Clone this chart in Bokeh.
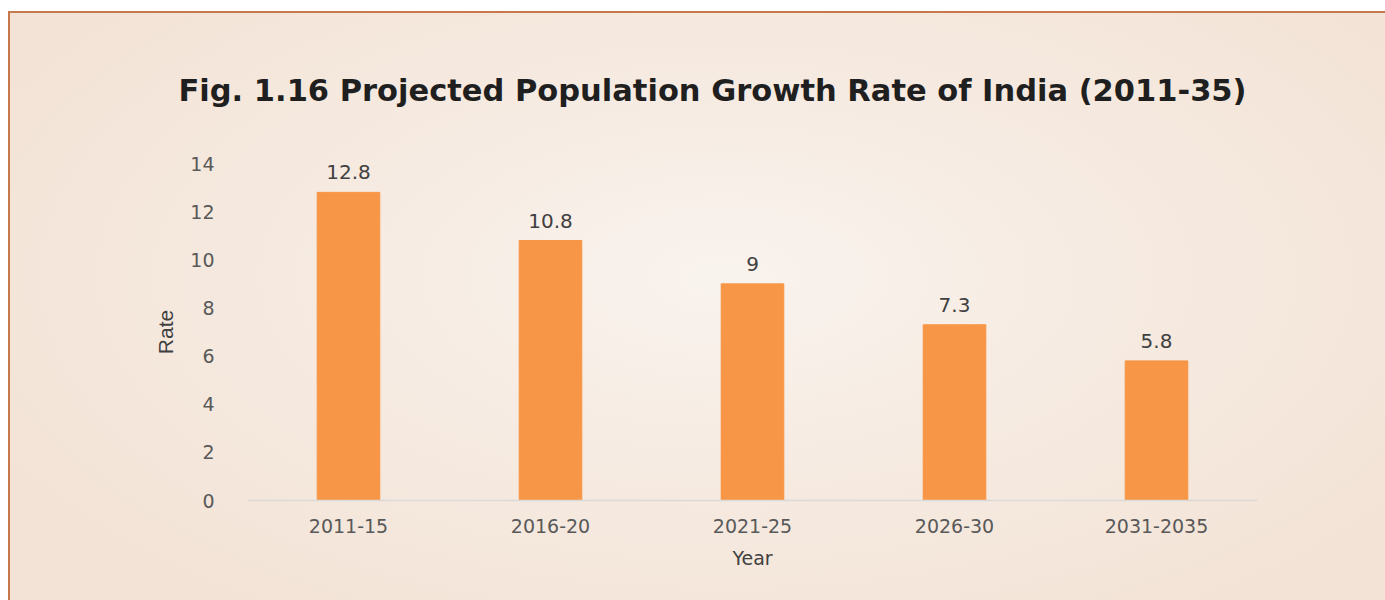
from bokeh.plotting import figure
from bokeh.models import ColumnDataSource, LabelSet, FixedTicker
from bokeh.core.properties import value
from bokeh.embed import file_html
from bokeh.resources import INLINE

categories = ["2011-15", "2016-20", "2021-25", "2026-30", "2031-2035"]
rates = [12.8, 10.8, 9, 7.3, 5.8]
rate_labels = ["12.8", "10.8", "9", "7.3", "5.8"]
y_ticks = [0, 2, 4, 6, 8, 10, 12, 14]
title_text = "Fig. 1.16 Projected Population Growth Rate of India (2011-35)"

src = ColumnDataSource(dict(cat=categories, rate=rates, lab=rate_labels))

W, H = 1377, 589
p = figure(x_range=categories, y_range=(0, 14), width=W, height=H,
           output_backend="svg", toolbar_location=None,
           min_border_left=237, min_border_right=W - 1247,
           min_border_top=150, min_border_bottom=H - 487,
           title=title_text)
p.margin = (11, 0, 0, 8)
p.styles = {"border-top": "2px solid #c8794c", "border-left": "2px solid #c8794c",
            "background": "radial-gradient(ellipse 60% 70% at 52% 45%, #f9f3ee 0%, #f6ebe2 45%, #f3e3d6 100%)"}
p.background_fill_alpha = 0
p.border_fill_alpha = 0
p.outline_line_color = None

p.vbar(x="cat", top="rate", width=0.31, source=src, color="#f79646")
p.add_layout(LabelSet(x="cat", y="rate", text="lab", source=src, text_align="center",
                      text_baseline="bottom", y_offset=13, text_font=value("DejaVu Sans"),
                      text_font_size="20px", text_color="#404040"))

p.title.align = "left"
p.title.offset = -69
p.title.standoff = 111
p.title.text_font = "DejaVu Sans"
p.title.text_font_size = "30.5px"
p.title.text_font_style = "bold"
p.title.text_color = "#1f1f1f"

p.xgrid.grid_line_color = None
p.ygrid.grid_line_color = None

p.yaxis.ticker = FixedTicker(ticks=y_ticks)
p.yaxis.axis_line_color = None
p.yaxis.major_tick_line_color = None
p.yaxis.minor_tick_line_color = None
p.yaxis.major_label_standoff = 27
p.yaxis.axis_label = "Rate"
p.yaxis.axis_label_text_font = "Liberation Sans"
p.yaxis.axis_label_text_font_style = "normal"
p.yaxis.axis_label_text_font_size = "21px"
p.yaxis.axis_label_text_color = "#404040"
p.yaxis.axis_label_standoff = 10

p.xaxis.axis_line_color = "#d9d9d9"
p.xaxis.axis_line_width = 1.5
p.xaxis.major_tick_line_color = None
p.xaxis.minor_tick_line_color = None
p.xaxis.major_label_standoff = 12
p.xaxis.axis_label = "Year"
p.xaxis.axis_label_text_font = "DejaVu Sans"
p.xaxis.axis_label_text_font_style = "normal"
p.xaxis.axis_label_text_font_size = "19px"
p.xaxis.axis_label_text_color = "#404040"
p.xaxis.axis_label_standoff = 11

for ax in (p.xaxis, p.yaxis):
    ax.major_label_text_font = "DejaVu Sans"
    ax.major_label_text_font_size = "19px"
    ax.major_label_text_color = "#595959"

open("out.html", "w").write(file_html(p, INLINE))
